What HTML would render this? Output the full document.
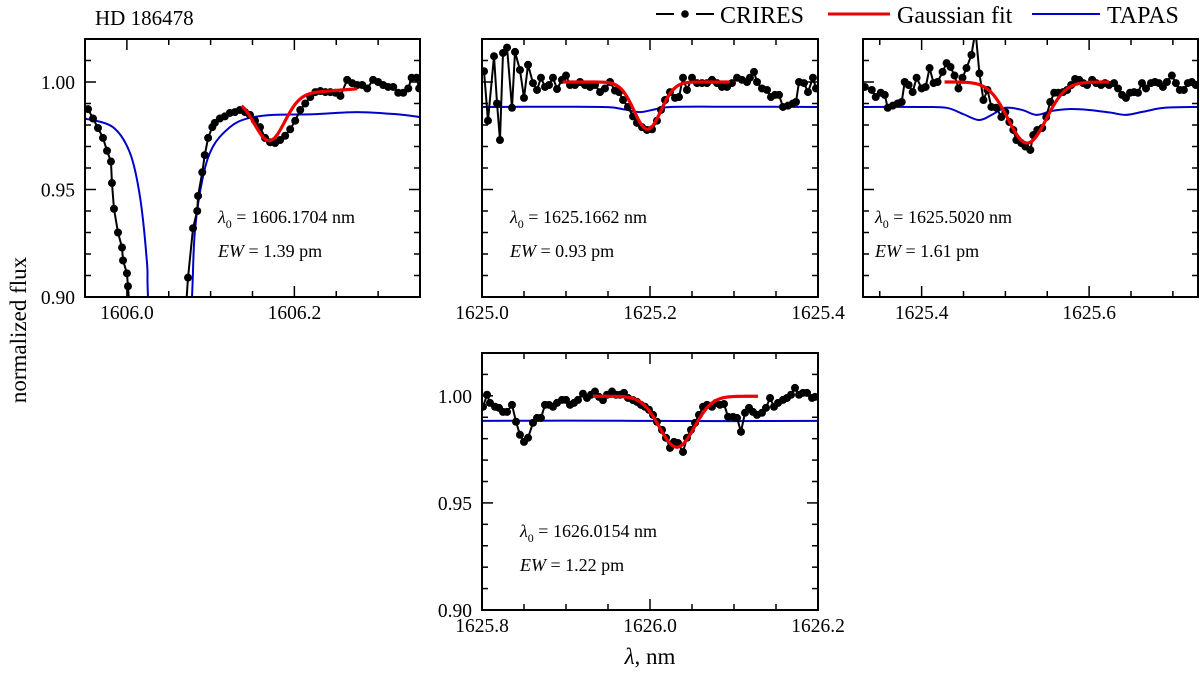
<!DOCTYPE html>
<html><head><meta charset="utf-8"><style>
body{margin:0;background:#fff;}
svg{display:block;font-family:"Liberation Serif",serif;}
</style></head><body>
<svg id="fig" width="1200" height="673" viewBox="0 0 1200 673" xmlns="http://www.w3.org/2000/svg">
<defs>
<clipPath id="c1"><rect x="85" y="39" width="335" height="258"/></clipPath>
<clipPath id="c2"><rect x="482" y="39" width="336" height="258"/></clipPath>
<clipPath id="c3"><rect x="863" y="39" width="335" height="258"/></clipPath>
<clipPath id="c4"><rect x="482" y="353" width="336" height="257"/></clipPath>
</defs>
<text x="95" y="25" font-size="21">HD 186478</text>
<g>
<g>
<line x1="656" y1="14" x2="714" y2="14" stroke="#000" stroke-width="2" stroke-dasharray="18 8 6 8 18"/>
<circle cx="685" cy="14" r="3.8" fill="#000"/>
<text x="720" y="23" font-size="24">CRIRES</text></g>
<g>
<line x1="828" y1="14" x2="890" y2="14" stroke="#e00" stroke-width="3"/>
<text x="897" y="23" font-size="24">Gaussian fit</text></g>
<g>
<line x1="1032" y1="14" x2="1100" y2="14" stroke="#00c" stroke-width="2"/>
<text x="1107" y="23" font-size="24">TAPAS</text></g>
</g>
<text transform="translate(26,330) rotate(-90)" text-anchor="middle" font-size="23">normalized flux</text>
<text x="650" y="664" text-anchor="middle" font-size="23"><tspan font-style="italic">λ</tspan>, nm</text>
<g id="panels"></g>
</svg>
<script>
// ---- Panel 1 data (HD 186478, 1606 nm) ----
const p1CriresWl=[1605.9536,1605.9596,1605.9655,1605.9715,1605.9763,1605.981,1605.9822,1605.9846,1605.9894,1605.9942,1605.9954,1606.0001,1606.0013,1606.006,1606.068,1606.073,1606.079,1606.084,1606.085,1606.090,1606.093,1606.097,1606.102,1606.105,1606.111,1606.117,1606.123,1606.129,1606.135,1606.141,1606.147,1606.153,1606.159,1606.165,1606.171,1606.177,1606.183,1606.189,1606.195,1606.201,1606.207,1606.213,1606.219,1606.225,1606.231,1606.237,1606.243,1606.249,1606.255,1606.263,1606.269,1606.275,1606.281,1606.287,1606.294,1606.300,1606.306,1606.312,1606.318,1606.324,1606.330,1606.336,1606.340,1606.346,1606.349];
const p1CriresFlux=[0.9874,0.983,0.9786,0.974,0.968,0.963,0.953,0.941,0.930,0.923,0.917,0.911,0.905,0.88,0.88,0.909,0.932,0.940,0.947,0.958,0.966,0.974,0.979,0.981,0.983,0.984,0.9856,0.986,0.987,0.986,0.9847,0.982,0.979,0.974,0.972,0.9716,0.973,0.975,0.978,0.982,0.987,0.990,0.993,0.9953,0.9958,0.9953,0.9953,0.995,0.9935,1.001,0.9995,0.9986,0.9986,0.997,1.001,1.0,0.9986,0.9977,0.9977,0.995,0.995,0.997,1.002,1.002,0.997];
const p1TapasWl=[1605.95,1605.9834,1606.0037,1606.0157,1606.024,1606.0252,1606.033,1606.045,1606.07,1606.0778,1606.0813,1606.0909,1606.1028,1606.1231,1606.1434,1606.1745,1606.2222,1606.2748,1606.3225,1606.35];
const p1TapasFlux=[0.983,0.979,0.967,0.9465,0.916,0.90,0.83,0.80,0.83,0.90,0.931,0.956,0.970,0.979,0.983,0.9847,0.985,0.986,0.985,0.9837];
const p1Fit=[1606.1704,0.021,0.018,0.9937,0.03,1606.137,1606.275]; // center, depth, sigma, continuum, slope, from, to
// ---- Panel 2 ----
const p2CriresWl=[1625.0024,1625.0071,1625.0143,1625.0179,1625.0214,1625.0250,1625.0298,1625.0357,1625.0393,1625.0452,1625.0500,1625.0548,1625.0607,1625.0655,1625.0702,1625.0750,1625.0798,1625.0845,1625.0893,1625.0952,1625.1000,1625.1048,1625.1107,1625.1167,1625.1226,1625.1286,1625.1345,1625.1405,1625.1464,1625.1524,1625.1583,1625.1631,1625.1679,1625.1738,1625.1798,1625.1845,1625.1905,1625.1964,1625.2024,1625.2083,1625.2131,1625.2179,1625.2238,1625.2298,1625.2345,1625.2393,1625.2440,1625.2500,1625.2560,1625.2619,1625.2679,1625.2738,1625.2798,1625.2857,1625.2917,1625.2976,1625.3036,1625.3095,1625.3155,1625.3190,1625.3238,1625.3274,1625.3333,1625.3393,1625.3440,1625.3488,1625.3536,1625.3583,1625.3643,1625.3702,1625.3738,1625.3774,1625.3833,1625.3881,1625.3940,1625.3976];
const p2CriresFlux=[1.005,0.982,1.012,0.99,0.973,1.0135,1.016,0.988,1.014,1.0056,0.9926,1.008,0.9995,0.9963,1.002,0.9977,0.9986,1.002,0.9967,1.001,1.003,0.9986,0.9986,1.0,0.9986,0.9977,0.9986,0.9953,0.997,1.0,0.996,0.9953,0.9916,0.9884,0.984,0.981,0.979,0.9777,0.978,0.982,0.987,0.9916,0.9953,0.9926,0.993,1.002,0.9963,1.002,0.9995,0.9995,0.9995,1.001,0.9995,0.9977,0.9977,0.9995,1.002,1.001,1.0,1.002,1.0047,1.0,0.997,0.9963,0.993,0.994,0.994,0.9884,0.989,0.990,0.9907,1.0,0.9995,0.9953,1.002,0.997];
const p2TapasWl=[1625.0,1625.10,1625.15,1625.17,1625.188,1625.205,1625.225,1625.30,1625.40];
const p2TapasFlux=[0.9884,0.9885,0.9883,0.9872,0.986,0.9872,0.9884,0.9885,0.9884];
const p2Fit=[1625.197,0.022,0.016,1.0,0,1625.096,1625.295];
// ---- Panel 3 ----
const p3CriresWl=[1625.3321,1625.3405,1625.3452,1625.3512,1625.3560,1625.3595,1625.3655,1625.3714,1625.3762,1625.3798,1625.3845,1625.3893,1625.3940,1625.4000,1625.4048,1625.4095,1625.4143,1625.4190,1625.4250,1625.4298,1625.4345,1625.4393,1625.4440,1625.4488,1625.4536,1625.4595,1625.4643,1625.4690,1625.4738,1625.4786,1625.4833,1625.4893,1625.4952,1625.5000,1625.5048,1625.5095,1625.5131,1625.5190,1625.5238,1625.5298,1625.5333,1625.5381,1625.5440,1625.5488,1625.5536,1625.5583,1625.5631,1625.5690,1625.5738,1625.5786,1625.5833,1625.5881,1625.5929,1625.5976,1625.6036,1625.6083,1625.6143,1625.6190,1625.6238,1625.6298,1625.6345,1625.6393,1625.6440,1625.6488,1625.6536,1625.6583,1625.6631,1625.6679,1625.6738,1625.6786,1625.6833,1625.6881,1625.6929,1625.6988,1625.7036,1625.7083,1625.7131,1625.7179,1625.7226,1625.7274];
const p3CriresFlux=[0.9977,0.9963,0.993,0.995,0.994,0.988,0.989,0.990,0.9907,1.0,0.9986,0.9953,1.002,0.997,0.9977,1.0065,0.9995,1.0,1.0047,1.0088,1.007,1.003,0.997,1.002,1.0065,1.0126,1.024,1.004,0.9916,0.9963,0.9884,0.988,0.9837,0.986,0.9814,0.9777,0.973,0.9716,0.970,0.9684,0.9753,0.9777,0.9786,0.9837,0.9907,0.995,0.995,0.9953,0.9963,0.9986,1.0014,1.001,0.9995,0.9986,1.001,0.9995,0.9986,0.9995,0.9986,0.9995,0.997,0.994,0.9926,0.995,0.9953,0.995,0.9995,0.997,0.9995,1.0,0.9995,0.9977,1.0,1.003,0.9995,0.9963,0.9963,0.9995,1.0,0.9986];
const p3TapasWl=[1625.33,1625.40,1625.43,1625.45,1625.469,1625.485,1625.50,1625.52,1625.537,1625.555,1625.575,1625.60,1625.625,1625.644,1625.665,1625.69,1625.73];
const p3TapasFlux=[0.9884,0.9884,0.9880,0.9850,0.9823,0.9850,0.9880,0.9870,0.9847,0.9865,0.9874,0.9870,0.9858,0.9847,0.9862,0.9880,0.9884];
const p3Fit=[1625.526,0.0284,0.0228,1.0,0,1625.4274,1625.6238];
// ---- Panel 4 ----
const p4CriresWl=[1625.8012,1625.8060,1625.8095,1625.8155,1625.8202,1625.8250,1625.8298,1625.8357,1625.8405,1625.8452,1625.8500,1625.8548,1625.8607,1625.8655,1625.8702,1625.8750,1625.8798,1625.8845,1625.8893,1625.8952,1625.9000,1625.9048,1625.9095,1625.9143,1625.9202,1625.9250,1625.9298,1625.9345,1625.9393,1625.9440,1625.9488,1625.9548,1625.9595,1625.9643,1625.9690,1625.9738,1625.9798,1625.9845,1625.9893,1625.9940,1625.9988,1626.0036,1626.0083,1626.0143,1626.0190,1626.0238,1626.0286,1626.0333,1626.0393,1626.0440,1626.0488,1626.0536,1626.0583,1626.0631,1626.0679,1626.0738,1626.0786,1626.0833,1626.0881,1626.0929,1626.0988,1626.1036,1626.1083,1626.1131,1626.1179,1626.1226,1626.1274,1626.1333,1626.1381,1626.1429,1626.1476,1626.1524,1626.1583,1626.1631,1626.1679,1626.1726,1626.1774,1626.1821,1626.1869,1626.1929,1626.1964];
const p4CriresFlux=[0.9949,1.0005,0.9967,0.9949,0.9944,0.9925,0.9925,0.9958,0.9879,0.9818,0.9785,0.9804,0.9874,0.9897,0.9897,0.9958,0.9958,0.9949,0.9967,0.9981,0.9981,0.9958,0.9967,0.9981,1.001,0.999,1.0005,1.002,0.9995,0.998,1.0005,1.002,1.0005,1.0005,1.0014,0.999,0.998,0.9972,0.9958,0.9949,0.9935,0.9911,0.9879,0.9841,0.9804,0.9757,0.9785,0.978,0.9738,0.9804,0.9841,0.9874,0.9911,0.9949,0.9958,0.9949,0.9967,0.9958,0.9962,0.9902,0.9902,0.9897,0.9832,0.9921,0.9944,0.9925,0.9911,0.9921,0.9944,0.999,0.9949,0.9967,0.9981,0.999,1.0005,1.0037,1.0005,1.0014,1.0014,0.999,0.9995];
const p4TapasWl=[1625.8,1625.9,1626.0,1626.1,1626.2];
const p4TapasFlux=[0.9883,0.9884,0.9883,0.9882,0.9883];
const p4Fit=[1626.032,0.0238,0.0208,0.9998,0,1625.932,1626.1286];
// ---- annotation text ----
const p1Label=["1606.1704","1.39"], p2Label=["1625.1662","0.93"], p3Label=["1625.5020","1.61"], p4Label=["1626.0154","1.22"];

const NS="http://www.w3.org/2000/svg";
const root=document.getElementById('panels');
function mk(tag,attrs,parent){const e=document.createElementNS(NS,tag);for(const k in attrs)e.setAttribute(k,attrs[k]);(parent||root).appendChild(e);return e;}

const panels=[
 {name:'panel-1606-17',L:85,R:420,T:39,B:297,x0:1605.95,x1:1606.35,clip:'c1',cw:p1CriresWl,cf:p1CriresFlux,tw:p1TapasWl,tf:p1TapasFlux,fit:p1Fit,lab:p1Label,xt:[1606.0,1606.2],yl:true,ax:218,ay:223},
 {name:'panel-1625-17',L:482,R:818,T:39,B:297,x0:1625.0,x1:1625.4,clip:'c2',cw:p2CriresWl,cf:p2CriresFlux,tw:p2TapasWl,tf:p2TapasFlux,fit:p2Fit,lab:p2Label,xt:[1625.0,1625.2,1625.4],yl:false,ax:510,ay:223},
 {name:'panel-1625-50',L:863,R:1198,T:39,B:297,x0:1625.33,x1:1625.73,clip:'c3',cw:p3CriresWl,cf:p3CriresFlux,tw:p3TapasWl,tf:p3TapasFlux,fit:p3Fit,lab:p3Label,xt:[1625.4,1625.6],yl:false,ax:875,ay:223},
 {name:'panel-1626-02',L:482,R:818,T:353,B:610,x0:1625.8,x1:1626.2,clip:'c4',cw:p4CriresWl,cf:p4CriresFlux,tw:p4TapasWl,tf:p4TapasFlux,fit:p4Fit,lab:p4Label,xt:[1625.8,1626.0,1626.2],yl:true,ax:520,ay:537}
];

panels.forEach(p=>{
 const sx=v=>p.L+(v-p.x0)/(p.x1-p.x0)*(p.R-p.L);
 const sy=v=>p.B-(v-0.90)/0.12*(p.B-p.T);
 const g=mk('g',{});
 
 
 const c=mk('g',{'clip-path':'url(#'+p.clip+')'},g);
 let d='';const pts=p.tw.map((w,i)=>[sx(w),sy(p.tf[i])]);
 d='M'+pts[0][0]+','+pts[0][1];
 for(let i=0;i<pts.length-1;i++){const p0=pts[Math.max(0,i-1)],p1=pts[i],p2=pts[i+1],p3=pts[Math.min(pts.length-1,i+2)];
  d+=' C'+(p1[0]+(p2[0]-p0[0])/6)+','+(p1[1]+(p2[1]-p0[1])/6)+' '+(p2[0]-(p3[0]-p1[0])/6)+','+(p2[1]-(p3[1]-p1[1])/6)+' '+p2[0]+','+p2[1];}
 const tp=mk('path',{d:d,fill:'none',stroke:'#00c','stroke-width':2},c);
 
 
 const cp=mk('polyline',{points:p.cw.map((w,i)=>sx(w)+','+sy(p.cf[i])).join(' '),fill:'none',stroke:'#000','stroke-width':2},c);
 
 
 p.cw.forEach((w,i)=>{const m=mk('circle',{cx:sx(w),cy:sy(p.cf[i]),r:4,fill:'#000'},c);
  
  });
 const [ctr,dep,sig,cont,slope,a,b]=p.fit;const fp=[];
 for(let k=0;k<=80;k++){const w=a+(b-a)*k/80;const f=cont+slope*(w-ctr)-dep*Math.exp(-((w-ctr)**2)/(2*sig*sig));fp.push(sx(w)+','+sy(f));}
 const fl=mk('polyline',{points:fp.join(' '),fill:'none',stroke:'#e00','stroke-width':3.2},c);
 
 
 const fr=mk('rect',{x:p.L,y:p.T,width:p.R-p.L,height:p.B-p.T,fill:'none',stroke:'#000','stroke-width':2},g);
 
 
 for(let k=0;;k++){const v=Math.ceil(p.x0/0.05-1e-6)*0.05+k*0.05;if(v>p.x1+1e-6)break;const x=sx(v);
  const major=Math.abs(v/0.2-Math.round(v/0.2))<1e-4;const len=major?11:6;
  mk('line',{x1:x,y1:p.B,x2:x,y2:p.B-len,stroke:'#000','stroke-width':1.5},g);
  mk('line',{x1:x,y1:p.T,x2:x,y2:p.T+len,stroke:'#000','stroke-width':1.5},g);}
 p.xt.forEach(v=>{const t=mk('text',{x:sx(v),y:p.B+22,'text-anchor':'middle','font-size':19.5},g);t.textContent=v.toFixed(1);
  
  });
 for(let k=0;k<=12;k++){const v=0.90+k*0.01;const y=sy(v);const len=(k%5==0)?11:6;
  mk('line',{x1:p.L,y1:y,x2:p.L+len,y2:y,stroke:'#000','stroke-width':1.5},g);
  mk('line',{x1:p.R,y1:y,x2:p.R-len,y2:y,stroke:'#000','stroke-width':1.5},g);}
 if(p.yl){[0.90,0.95,1.00].forEach(v=>{const t=mk('text',{x:p.L-10,y:sy(v)+7,'text-anchor':'end','font-size':19.5},g);t.textContent=v.toFixed(2);
  
  });}
 const t1=mk('text',{x:p.ax,y:p.ay,'font-size':18},g);
 t1.innerHTML='<tspan font-style="italic">λ</tspan><tspan font-size="12" dy="5">0</tspan><tspan dy="-5"> = '+p.lab[0]+' nm</tspan>';
 
 
 const t2=mk('text',{x:p.ax,y:p.ay+34,'font-size':18},g);
 t2.innerHTML='<tspan font-style="italic">EW</tspan> = '+p.lab[1]+' pm';
 
 
});
</script>
</body></html>
